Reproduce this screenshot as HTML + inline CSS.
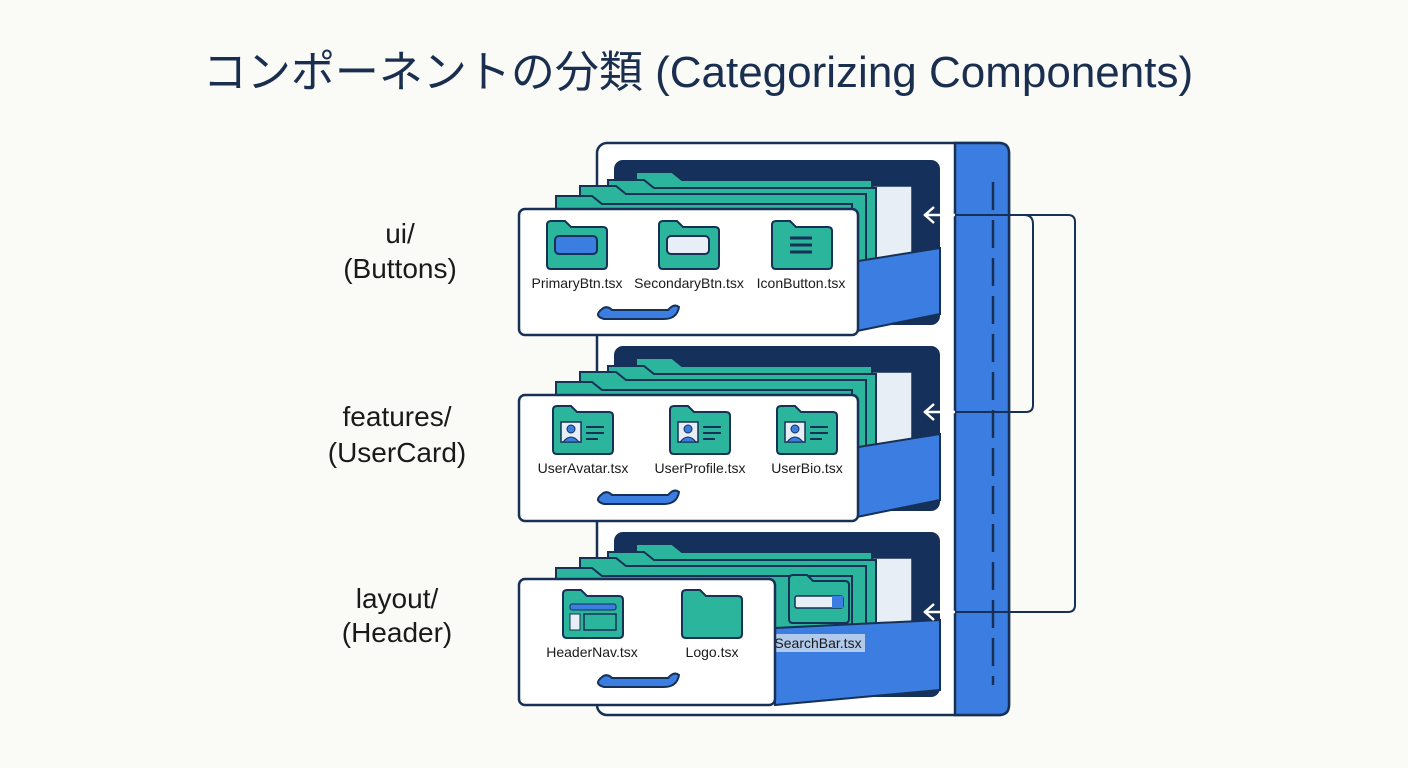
<!DOCTYPE html>
<html><head><meta charset="utf-8"><style>
html,body{margin:0;padding:0;background:#fafaf7;}
svg{display:block;}
text{font-family:"Liberation Sans","Noto Sans CJK JP",sans-serif;}
</style></head><body>
<svg width="1408" height="768" viewBox="0 0 1408 768" xmlns="http://www.w3.org/2000/svg">
<defs>
<g id="fold">
 <path d="M0,4 q0,-4 4,-4 h14 l6,6 h32 q4,0 4,4 v34 q0,4 -4,4 h-52 q-4,0 -4,-4z" fill="#2bb59c" stroke="#163056" stroke-width="2"/>
</g>
<g id="user">
 <rect x="8" y="16" width="20" height="20" fill="#e8eef5" stroke="#163056" stroke-width="1.5"/>
 <circle cx="18" cy="23" r="4" fill="#3b7de0" stroke="#163056" stroke-width="1"/>
 <path d="M10,36 q8,-10 16,0z" fill="#3b7de0" stroke="#163056" stroke-width="1"/>
 <path d="M33,21h18M33,27h18M33,33h12" stroke="#163056" stroke-width="2"/>
</g>
<g id="drawerbackbase">
 <rect x="614" y="160" width="326" height="165" rx="9" fill="#15305a"/>
 <rect x="860" y="186" width="52" height="125" fill="#e8eef5" stroke="#163056" stroke-width="1.5"/>
 <path d="M636,172 h36 l10,8 h190 v135 h-236z" fill="#2bb59c" stroke="#163056" stroke-width="2"/>
 <path d="M608,180 h36 l10,8 h222 v127 h-268z" fill="#2bb59c" stroke="#163056" stroke-width="2"/>
 <path d="M580,186 h36 l10,8 h240 v121 h-286z" fill="#2bb59c" stroke="#163056" stroke-width="2"/>
 <path d="M556,196 h36 l10,8 h250 v111 h-296z" fill="#2bb59c" stroke="#163056" stroke-width="2"/>
</g>
<g id="side">
 <path d="M852,262 L940,248 L940,314 L852,332z" fill="#3b7de0" stroke="#163056" stroke-width="2"/>
</g>
<g id="handle">
 <path d="M602,309 q-9,7 2,10 h60 q13,0 15,-12 q-5,-4 -11,3 h-56 q-5,-5 -10,-1z" fill="#3b7de0" stroke="#163056" stroke-width="2"/>
</g>
</defs>

<text x="698" y="87" font-size="44" fill="#1a2e4f" text-anchor="middle">コンポーネントの分類 (Categorizing Components)</text>

<rect x="597" y="143" width="412" height="572" rx="10" fill="#fff" stroke="#163056" stroke-width="2.5"/>
<path d="M955,143 h44 q10,0 10,10 v552 q0,10 -10,10 h-44z" fill="#3b7de0" stroke="#163056" stroke-width="2.5"/>
<line x1="993" y1="182" x2="993" y2="685" stroke="#163056" stroke-width="2.5" stroke-dasharray="28,10"/>

<!-- drawer 1 -->
<use href="#drawerbackbase"/><use href="#side"/>
<rect x="519" y="209" width="339" height="126" rx="6" fill="#fff" stroke="#163056" stroke-width="2.5"/>
<use href="#fold" x="547" y="221"/>
<rect x="555" y="236" width="42" height="18" rx="4" fill="#3b7de0" stroke="#163056" stroke-width="2"/>
<use href="#fold" x="659" y="221"/>
<rect x="667" y="236" width="42" height="18" rx="4" fill="#e8eef5" stroke="#163056" stroke-width="2"/>
<use href="#fold" x="772" y="221"/>
<path d="M790,238h22M790,245h22M790,252h22" stroke="#163056" stroke-width="3"/>
<text x="577" y="288" font-size="14" fill="#1a1a1a" text-anchor="middle">PrimaryBtn.tsx</text>
<text x="689" y="288" font-size="14" fill="#1a1a1a" text-anchor="middle">SecondaryBtn.tsx</text>
<text x="801" y="288" font-size="14" fill="#1a1a1a" text-anchor="middle">IconButton.tsx</text>
<use href="#handle"/>

<!-- drawer 2 -->
<use href="#drawerbackbase" y="186"/><use href="#side" y="186"/>
<rect x="519" y="395" width="339" height="126" rx="6" fill="#fff" stroke="#163056" stroke-width="2.5"/>
<use href="#fold" x="553" y="406"/><use href="#user" x="553" y="406"/>
<use href="#fold" x="670" y="406"/><use href="#user" x="670" y="406"/>
<use href="#fold" x="777" y="406"/><use href="#user" x="777" y="406"/>
<text x="583" y="473" font-size="14" fill="#1a1a1a" text-anchor="middle">UserAvatar.tsx</text>
<text x="700" y="473" font-size="14" fill="#1a1a1a" text-anchor="middle">UserProfile.tsx</text>
<text x="807" y="473" font-size="14" fill="#1a1a1a" text-anchor="middle">UserBio.tsx</text>
<use href="#handle" y="185"/>

<!-- drawer 3 -->
<use href="#drawerbackbase" y="372"/>
<path d="M775,628 L940,620 L940,690 L775,705z" fill="#3b7de0" stroke="#163056" stroke-width="2"/>
<use href="#fold" x="789" y="575"/>
<rect x="795" y="596" width="48" height="12" rx="2" fill="#e8eef5" stroke="#163056" stroke-width="1.5"/>
<rect x="832" y="596" width="11" height="12" fill="#3b7de0"/>
<rect x="771" y="634" width="94" height="18" fill="#cfdcec" opacity="0.8"/>
<text x="818" y="648" font-size="14" fill="#1a1a1a" text-anchor="middle">SearchBar.tsx</text>
<rect x="519" y="579" width="256" height="126" rx="6" fill="#fff" stroke="#163056" stroke-width="2.5"/>
<use href="#fold" x="563" y="590"/>
<rect x="570" y="604" width="46" height="6" rx="2" fill="#3b7de0" stroke="#163056" stroke-width="1"/>
<rect x="570" y="614" width="10" height="16" fill="#e8eef5" stroke="#163056" stroke-width="1"/>
<rect x="584" y="614" width="32" height="16" fill="#2bb59c" stroke="#163056" stroke-width="1.5"/>
<use href="#fold" x="682" y="590"/>
<text x="592" y="657" font-size="14" fill="#1a1a1a" text-anchor="middle">HeaderNav.tsx</text>
<text x="712" y="657" font-size="14" fill="#1a1a1a" text-anchor="middle">Logo.tsx</text>
<use href="#handle" y="368"/>

<g fill="none" stroke="#163056" stroke-width="2">
 <path d="M924,215 H1068 q7,0 7,7 V605 q0,7 -7,7 H924"/>
 <path d="M1024,215 q9,0 9,9 V405 q0,7 -7,7 H924"/>
 <path d="M934,207 l-9,8 l9,8 M934,404 l-9,8 l9,8 M934,604 l-9,8 l9,8" stroke="#fff" stroke-width="2.5"/>
</g>
<g fill="none" stroke="#fff" stroke-width="2.5">
 <line x1="924" y1="215" x2="955" y2="215"/>
 <line x1="924" y1="412" x2="955" y2="412"/>
 <line x1="924" y1="612" x2="955" y2="612"/>
</g>

<g font-size="28" fill="#1a1a1a" text-anchor="middle">
<text x="400" y="243">ui/</text>
<text x="400" y="278">(Buttons)</text>
<text x="397" y="426">features/</text>
<text x="397" y="462">(UserCard)</text>
<text x="397" y="608">layout/</text>
<text x="397" y="642">(Header)</text>
</g>
</svg>
</body></html>
